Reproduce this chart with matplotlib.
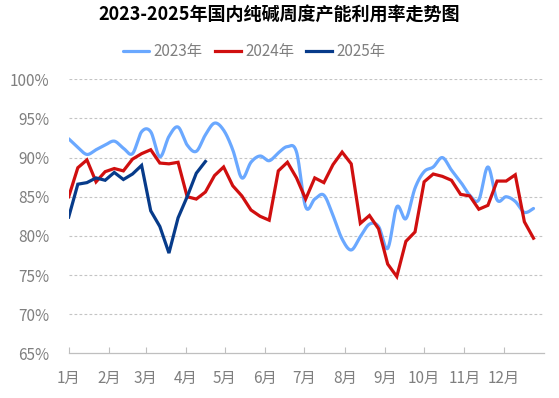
import matplotlib
matplotlib.use('Agg')
import matplotlib.pyplot as plt
import numpy as np
from matplotlib.ticker import FuncFormatter

plt.rcParams['font.family'] = ['Noto Sans CJK SC', 'DejaVu Sans']

TITLE = '2023-2025年国内纯碱周度产能利用率走势图'
SERIES_NAMES = ['2023年', '2024年', '2025年']
MONTH_LABELS = ['1月', '2月', '3月', '4月', '5月', '6月',
                '7月', '8月', '9月', '10月', '11月', '12月']
MONTH_START_DAYS = [0, 31, 59, 90, 120, 151, 181, 212, 243, 273, 304, 334]
Y_TICKS = [65, 70, 75, 80, 85, 90, 95, 100]

# weekly capacity utilisation, %
rate_2023 = [92.4, 91.3, 90.4, 91.0, 91.6, 92.1, 91.2, 90.5, 93.3, 93.3,
             90.1, 92.7, 93.9, 91.6, 90.8, 92.9, 94.4, 93.5, 91.0, 87.4,
             89.4, 90.2, 89.6, 90.6, 91.4, 90.7, 83.7, 84.7, 85.2, 82.6,
             79.6, 78.2, 79.9, 81.5, 81.2, 78.4, 83.7, 82.2, 86.1, 88.2,
             88.8, 90.0, 88.4, 86.9, 85.2, 84.6, 88.8, 84.6, 85.0, 84.4,
             83.0, 83.5]
rate_2024 = [85.0, 88.7, 89.7, 86.9, 88.2, 88.6, 88.3, 89.8, 90.5, 91.0,
             89.3, 89.2, 89.4, 85.0, 84.7, 85.6, 87.7, 88.8, 86.4, 85.1,
             83.3, 82.5, 82.0, 88.3, 89.4, 87.4, 84.7, 87.4, 86.8, 89.1,
             90.7, 89.2, 81.6, 82.6, 80.9, 76.4, 74.8, 79.3, 80.5, 86.9,
             87.9, 87.6, 87.1, 85.3, 85.1, 83.4, 83.9, 87.0, 87.0, 87.8,
             81.8, 79.7]
rate_2025 = [82.4, 86.6, 86.8, 87.4, 87.1, 88.1, 87.2, 87.9, 89.0, 83.2,
             81.2, 77.8, 82.3, 85.0, 88.0, 89.5]

COLORS = ['#6aa8ff', '#d00f0f', '#073b8a']


def smooth(x, y, n=24):
    # Excel-style smoothed line: Bezier segments with Catmull-Rom controls
    pts = np.column_stack([x, y]).astype(float)
    p = np.vstack([pts[0], pts, pts[-1]])
    t = np.linspace(0, 1, n)[:, None]
    out = []
    for i in range(1, len(p) - 2):
        p0, p1, p2, p3 = p[i - 1], p[i], p[i + 1], p[i + 2]
        c1 = p1 + (p2 - p0) / 6
        c2 = p2 - (p3 - p1) / 6
        seg = (1 - t) ** 3 * p1 + 3 * (1 - t) ** 2 * t * c1 + 3 * (1 - t) * t ** 2 * c2 + t ** 3 * p2
        out.append(seg if i == 1 else seg[1:])
    out = np.vstack(out)
    return out[:, 0], out[:, 1]


fig = plt.figure(figsize=(5.59, 3.98), dpi=100)
ax = fig.add_axes([0.1229, 0.1123, 0.8501, 0.6885])

x23 = np.arange(len(rate_2023)) * 7
x24 = np.arange(len(rate_2024)) * 7
x25 = np.arange(len(rate_2025)) * 7

sx, sy = smooth(x23, rate_2023)
ax.plot(sx, sy, color=COLORS[0], lw=2.3, label=SERIES_NAMES[0], solid_capstyle='round')
ax.plot(x24, rate_2024, color=COLORS[1], lw=2.3, label=SERIES_NAMES[1], solid_joinstyle='miter')
ax.plot(x25, rate_2025, color=COLORS[2], lw=2.3, label=SERIES_NAMES[2], solid_joinstyle='miter')

ax.set_xlim(0, 365)
ax.set_ylim(65, 100)
ax.set_yticks(Y_TICKS)
ax.yaxis.set_major_formatter(FuncFormatter(lambda v, _: f'{v:.0f}%'))
ax.set_xticks(MONTH_START_DAYS)
ax.set_xticklabels(MONTH_LABELS)

for v in Y_TICKS[1:]:
    ax.axhline(v, color='#c4c4c4', lw=0.8, ls=(0, (2.5, 2)), zorder=0)

for side in ['left', 'right', 'top']:
    ax.spines[side].set_visible(False)
ax.spines['bottom'].set_color('#bfbfbf')
ax.spines['bottom'].set_linewidth(0.9)

ax.tick_params(axis='y', length=0, pad=14, labelsize=11, labelcolor='#7f7f7f')
ax.tick_params(axis='x', direction='in', length=4, width=0.8, color='#bfbfbf',
               pad=12, labelsize=11, labelcolor='#7f7f7f')

fig.text(0.5, 0.962, TITLE, ha='center', va='center', fontsize=13, fontweight='bold', color='black')

ax.legend(loc='center', bbox_to_anchor=(0.4550, 0.870), bbox_transform=fig.transFigure,
          ncol=3, frameon=False, fontsize=11, labelcolor='#7f7f7f',
          handlelength=1.7, handletextpad=0.3, columnspacing=0.8)

fig.savefig('out.png', dpi=100)
